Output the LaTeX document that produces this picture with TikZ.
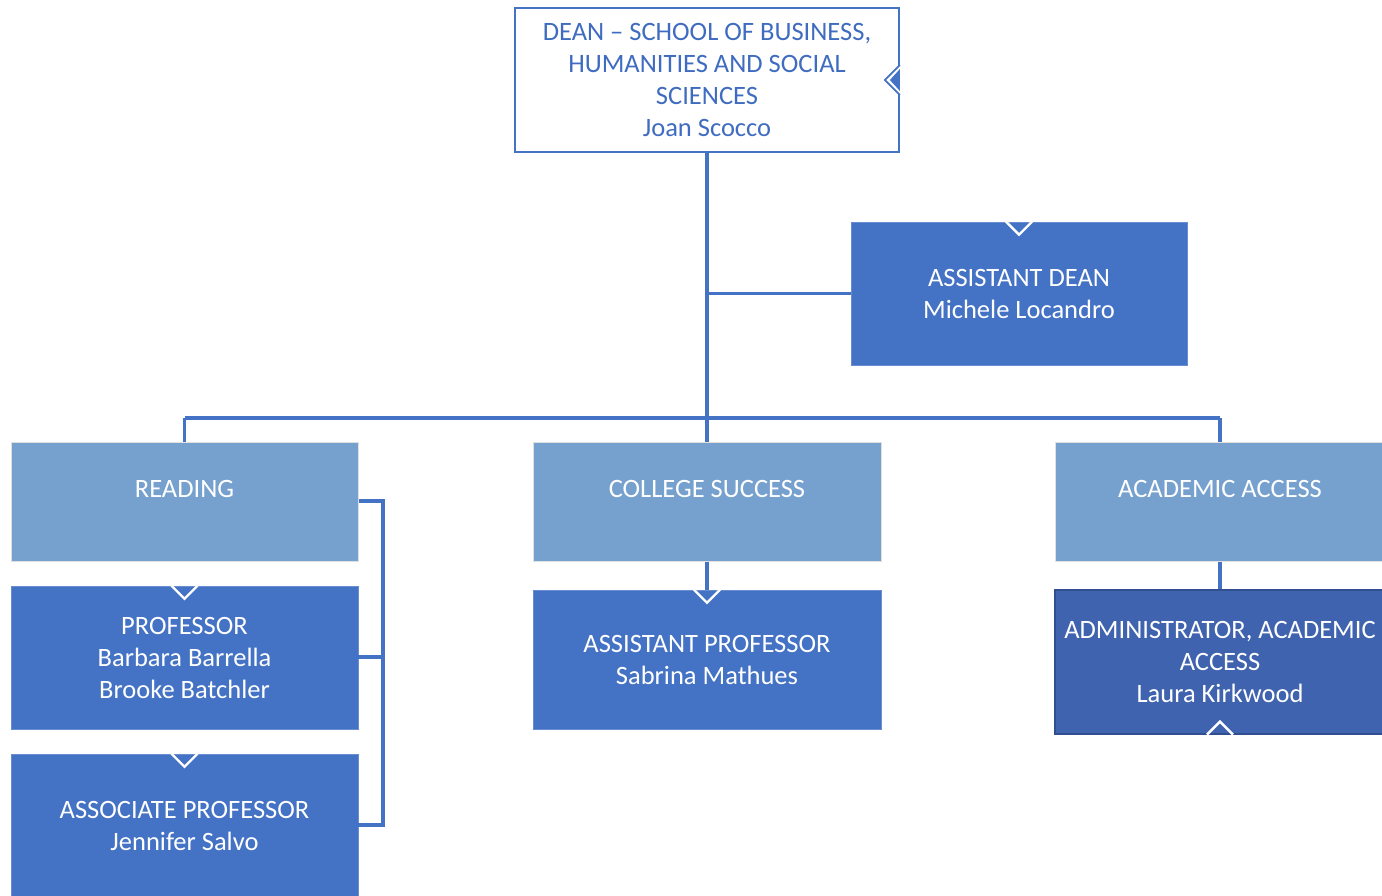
\documentclass[tikz,border=0pt]{standalone}
\usepackage{fontspec}
\setmainfont{Carlito}
\definecolor{dblue}{HTML}{4472C4}
\definecolor{lblue}{HTML}{76A1CE}
\definecolor{ablue}{HTML}{3F63AE}
\definecolor{aborder}{HTML}{2F4F8F}
\definecolor{tblue}{HTML}{3F6CC0}
\begin{document}
\begin{tikzpicture}[x=1pt,y=-1pt,
  box/.style={rectangle,inner sep=0pt,anchor=center},
  darkbox/.style={box,fill=dblue,draw=dblue!80!white,line width=0.6pt},
  lightbox/.style={box,fill=lblue,draw=black!12,line width=1pt},
  adminbox/.style={box,fill=ablue,draw=aborder,line width=1.2pt},
  deanbox/.style={box,fill=white,draw=dblue,line width=1.8pt},
  txt/.style={align=center,font=\fontsize{26.5}{32}\selectfont,text=white,inner sep=0pt},
  conn/.style={draw=dblue,line width=3.2pt},
  notch/.style={draw=white,line width=2.4pt}]
\useasboundingbox (0,0) rectangle (1382,895);
% boxes
\node[deanbox,minimum width=384pt,minimum height=144pt] (dean) at (707,80) {};
\node[darkbox,minimum width=336pt,minimum height=143pt] (adean) at (1019,293.5) {};
\node[lightbox,minimum width=347pt,minimum height=119pt] (reading) at (184.5,501.5) {};
\node[lightbox,minimum width=348pt,minimum height=119pt] (college) at (707,501.5) {};
\node[lightbox,minimum width=330pt,minimum height=119pt] (access) at (1220,501.5) {};
\node[darkbox,minimum width=347pt,minimum height=143pt] (prof) at (184.5,657.5) {};
\node[darkbox,minimum width=347pt,minimum height=143pt] (assoc) at (184.5,825.5) {};
\node[darkbox,minimum width=348pt,minimum height=139pt] (aprof) at (707,659.5) {};
\node[adminbox,minimum width=330pt,minimum height=144pt] (admin) at (1220,662) {};
% connectors
\coordinate (j1) at (dean.south |- adean.west);
\coordinate (j2) at (707,418);
\coordinate (jl) at (reading.north |- j2);
\coordinate (jr) at (access.north |- j2);
\coordinate (b1) at (383,501);
\coordinate (b2) at (383,825);
\coordinate (b3) at (383,657);
\draw[conn] (dean.south) -- (college.north);
\draw[conn] (j1) -- (adean.west);
\draw[conn] (jl) -- (jr);
\draw[conn] (jl) -- (reading.north);
\draw[conn] (jr) -- (access.north);
\draw[conn] (reading.east |- b1) -- (b1) -- (b2) -- (assoc.east |- b2);
\draw[conn] (b3) -- (prof.east |- b3);
\draw[conn] (college.south) -- (aprof.north);
\draw[conn] (access.south) -- (admin.north);
% notches
\draw[notch] ([xshift=-13pt]adean.north) -- ([yshift=-13pt]adean.north) -- ([xshift=13pt]adean.north);
\draw[notch] ([xshift=-13pt]prof.north) -- ([yshift=-13pt]prof.north) -- ([xshift=13pt]prof.north);
\draw[notch] ([xshift=-13pt]assoc.north) -- ([yshift=-13pt]assoc.north) -- ([xshift=13pt]assoc.north);
\draw[notch] ([xshift=-13pt]aprof.north) -- ([yshift=-13pt]aprof.north) -- ([xshift=13pt]aprof.north);
\draw[notch] ([xshift=-13pt]admin.south) -- ([yshift=13pt]admin.south) -- ([xshift=13pt]admin.south);
\fill[white] ([yshift=-15pt]dean.east) -- ([xshift=-15pt]dean.east) -- ([yshift=15pt]dean.east) -- cycle;
\draw[dblue,line width=1.8pt] ([yshift=-15pt]dean.east) -- ([xshift=-15pt]dean.east) -- ([yshift=15pt]dean.east);
\fill[dblue] ([yshift=-11pt]dean.east) -- ([xshift=-10pt]dean.east) -- ([yshift=11pt]dean.east) -- cycle;
% texts
\node[txt,text=tblue] (deanT) at (707,80) {DEAN – SCHOOL OF BUSINESS,\\HUMANITIES AND SOCIAL\\SCIENCES\\Joan Scocco};
\node[txt] (adeanT) at (1019,294) {ASSISTANT DEAN\\Michele Locandro};
\node[txt] (readingT) at (184.5,489) {READING};
\node[txt] (collegeT) at (707,489) {COLLEGE SUCCESS};
\node[txt] (accessT) at (1220,489) {ACADEMIC ACCESS};
\node[txt] (profT) at (184.5,658) {PROFESSOR\\Barbara Barrella\\Brooke Batchler};
\node[txt] (assocT) at (184.5,826) {ASSOCIATE PROFESSOR\\Jennifer Salvo};
\node[txt] (aprofT) at (707,660) {ASSISTANT PROFESSOR\\Sabrina Mathues};
\node[txt] (adminT) at (1220,662) {ADMINISTRATOR, ACADEMIC\\ACCESS\\Laura Kirkwood};
\end{tikzpicture}
\end{document}
